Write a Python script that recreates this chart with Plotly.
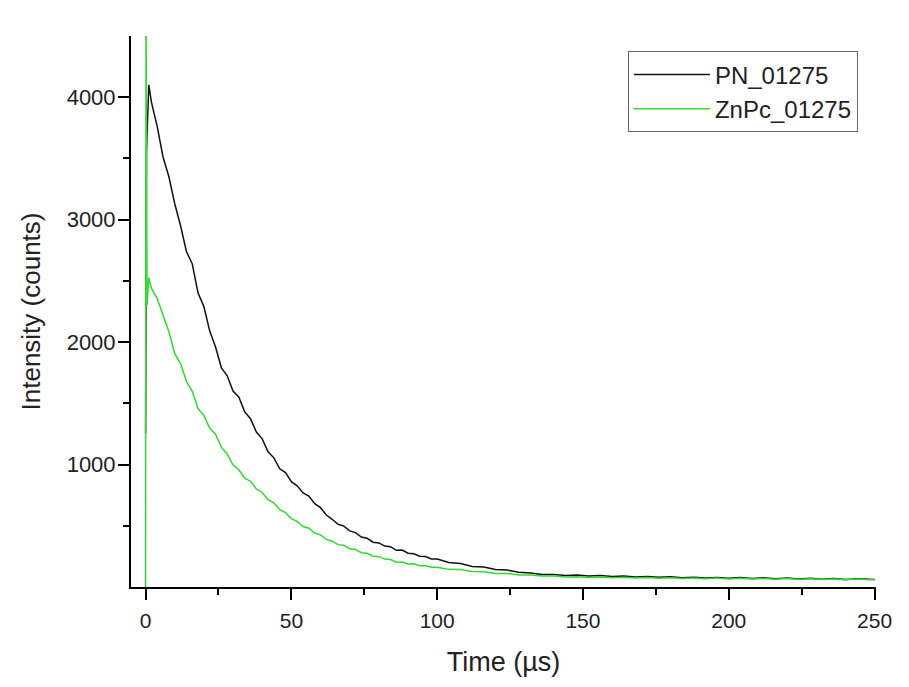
import plotly.graph_objects as go

# ---- data ----
time_pn = [0, 0.3, 1.1, 2, 4, 6, 8, 10, 12, 14, 16, 18, 20, 22, 24, 26, 28, 30,
           32, 34, 36, 38, 40, 42, 44, 46, 48, 50, 52, 54, 56, 58, 60, 62, 64, 66,
           68, 70, 72, 74, 76, 78, 80, 82, 84, 86, 88, 90, 92, 94, 96, 98, 100,
           104, 108, 112, 116, 120, 124, 128, 132, 136, 140, 144, 148, 152, 156,
           160, 164, 168, 172, 176, 180, 184, 188, 192, 196, 200, 204, 208, 212,
           216, 220, 224, 228, 232, 236, 240, 244, 248, 250]
pn_counts = [1250, 3550, 4100, 3960, 3760, 3510, 3350, 3130, 2950, 2740, 2640,
             2400, 2290, 2090, 1960, 1790, 1725, 1600, 1550, 1430, 1375, 1265,
             1210, 1105, 1055, 965, 935, 860, 826, 768, 742, 680, 648, 588, 553,
             512, 497, 458, 444, 408, 398, 366, 360, 334, 329, 300, 302, 276, 272,
             251, 249, 229, 228, 200, 192, 168, 164, 143, 138, 120, 115, 102, 103,
             94, 97, 89, 93, 85, 89, 82, 86, 79, 83, 76, 80, 74, 78, 72, 77, 70,
             75, 68, 73, 66, 71, 64, 69, 62, 67, 60, 62]

time_znpc = [0, 0.15, 0.5, 1.1, 2, 4, 6, 8, 10, 12, 14, 16, 18, 20, 22, 24, 26,
             28, 30, 32, 34, 36, 38, 40, 42, 44, 46, 48, 50, 52, 54, 56, 58, 60,
             62, 64, 66, 68, 70, 72, 74, 76, 78, 80, 82, 84, 86, 88, 90, 92, 94,
             96, 98, 100, 104, 108, 112, 116, 120, 124, 128, 132, 136, 140, 144,
             148, 152, 156, 160, 164, 168, 172, 176, 180, 184, 188, 192, 196, 200,
             204, 208, 212, 216, 220, 224, 228, 232, 236, 240, 244, 248, 250]
znpc_counts = [0, 4800, 2300, 2528, 2440, 2355, 2220, 2085, 1905, 1825, 1680,
               1598, 1455, 1402, 1296, 1248, 1142, 1086, 996, 958, 889, 864, 800,
               772, 714, 688, 632, 607, 558, 535, 494, 480, 441, 426, 389, 374,
               346, 341, 312, 307, 280, 275, 251, 248, 228, 225, 203, 204, 188,
               189, 174, 174, 161, 161, 144, 143, 126, 125, 111, 111, 99, 98, 89,
               90, 82, 84, 78, 82, 75, 80, 73, 78, 71, 76, 69, 74, 67, 73, 66, 71,
               65, 70, 63, 69, 62, 67, 61, 66, 60, 65, 59, 61]

series_names = ["PN_01275", "ZnPc_01275"]
x_ticks = [0, 50, 100, 150, 200, 250]
y_ticks = [1000, 2000, 3000, 4000]

FONT = "Arial, Liberation Sans, sans-serif"

fig = go.Figure()
fig.add_trace(go.Scatter(x=time_pn, y=pn_counts, mode="lines", name=series_names[0],
                         line=dict(color="#111111", width=1.5)))
fig.add_trace(go.Scatter(x=time_znpc, y=znpc_counts, mode="lines", name=series_names[1],
                         line=dict(color="#2fdc2f", width=1.5)))

axis_common = dict(
    showline=True, linecolor="black", linewidth=2, mirror=False,
    showgrid=False, zeroline=False,
    ticks="outside", ticklen=11, tickwidth=2, tickcolor="black",
)

fig.update_xaxes(
    range=[-5, 250.5], tickmode="array", tickvals=x_ticks,
    ticktext=[str(v) for v in x_ticks],
    tickfont=dict(family=FONT, size=21, color="#222222"),
    ticklabelstandoff=3,
    minor=dict(ticks="outside", ticklen=6, tickwidth=2, tickcolor="black", dtick=25,
               tick0=25, showgrid=False),
    title=dict(text="Time (µs)", font=dict(family=FONT, size=27, color="#222222"),
               standoff=21),
    **axis_common,
)
fig.update_yaxes(
    range=[0, 4500], tickmode="array", tickvals=y_ticks,
    ticktext=[str(v) for v in y_ticks],
    tickfont=dict(family=FONT, size=22, color="#222222"),
    ticklabelstandoff=-2,
    minor=dict(ticks="outside", ticklen=6, tickwidth=2, tickcolor="black",
               tickvals=[500, 1500, 2500, 3500], showgrid=False),
    title=dict(text="Intensity (counts)", font=dict(family=FONT, size=26, color="#222222"),
               standoff=19),
    **axis_common,
)

fig.update_layout(
    width=909, height=687,
    margin=dict(l=131, r=33, t=36, b=100),
    paper_bgcolor="white", plot_bgcolor="white",
    showlegend=True,
    legend=dict(
        x=0.667, y=0.972, xanchor="left", yanchor="top",
        bgcolor="white", bordercolor="#666666", borderwidth=1,
        font=dict(family=FONT, size=24, color="#222222"),
        tracegroupgap=0, itemwidth=76,
    ),
)

fig.write_html("out.html")
